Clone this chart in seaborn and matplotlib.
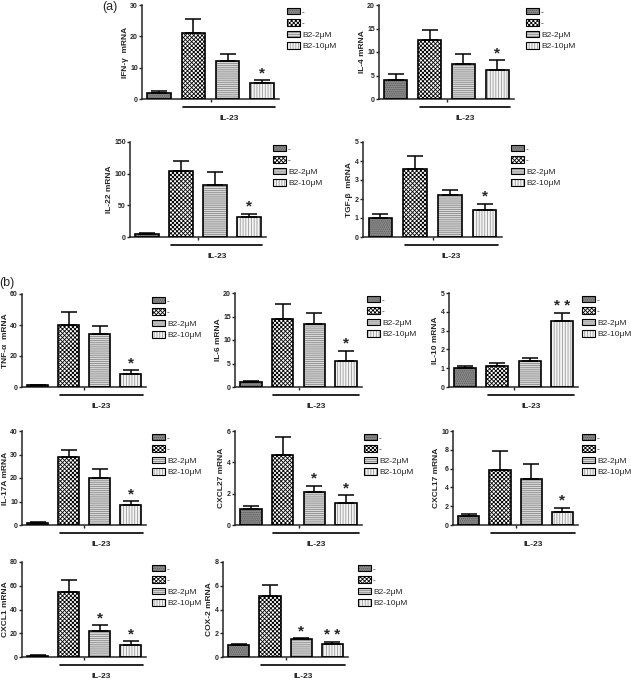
import numpy as np
import pandas as pd
import seaborn as sns
from matplotlib import pyplot as plt
from matplotlib.patches import Patch, Rectangle
from matplotlib.legend_handler import HandlerTuple

# groups (x categories) and legend labels
group_keys = ["ctrl", "il23", "b2_2", "b2_10"]
legend_labels = ["-", "-", "B2-2μM", "B2-10μM"]

# panel (a)
ifng = [2.0, 21.0, 12.0, 5.0]
ifng_err = [0.4, 4.5, 2.4, 1.0]
il4 = [4.0, 12.5, 7.5, 6.2]
il4_err = [1.4, 2.1, 2.1, 2.0]
il22 = [5.0, 105.0, 82.0, 32.0]
il22_err = [1.0, 15.0, 20.0, 5.0]
tgfb = [1.0, 3.6, 2.2, 1.4]
tgfb_err = [0.2, 0.65, 0.27, 0.35]

# panel (b)
tnfa = [1.0, 40.0, 34.5, 8.5]
tnfa_err = [0.3, 8.5, 5.0, 2.5]
il6 = [1.0, 14.5, 13.3, 5.6]
il6_err = [0.2, 3.2, 2.5, 2.1]
il10 = [1.0, 1.1, 1.4, 3.5]
il10_err = [0.1, 0.2, 0.13, 0.42]
il17a = [1.0, 28.8, 20.2, 8.6]
il17a_err = [0.3, 3.0, 3.5, 1.6]
cxcl27 = [1.0, 4.5, 2.1, 1.4]
cxcl27_err = [0.2, 1.1, 0.4, 0.5]
cxcl17 = [1.0, 5.8, 4.9, 1.4]
cxcl17_err = [0.2, 2.1, 1.6, 0.45]
cxcl1 = [1.0, 55.0, 21.5, 10.5]
cxcl1_err = [0.3, 10.0, 5.5, 3.0]
cox2 = [1.0, 5.1, 1.5, 1.1]
cox2_err = [0.1, 1.0, 0.1, 0.2]

y_labels = ["IFN-γ  mRNA", "IL-4 mRNA", "IL-22 mRNA", "TGF-β  mRNA",
            "TNF-α  mRNA", "IL-6 mRNA", "IL-10 mRNA",
            "IL-17A mRNA", "CXCL27 mRNA", "CXCL17 mRNA",
            "CXCL1 mRNA", "COX-2 mRNA"]
y_ticks = [[0, 10, 20, 30], [0, 5, 10, 15, 20], [0, 50, 100, 150], [0, 1, 2, 3, 4, 5],
           [0, 20, 40, 60], [0, 5, 10, 15, 20], [0, 1, 2, 3, 4, 5],
           [0, 10, 20, 30, 40], [0, 2, 4, 6], [0, 2, 4, 6, 8, 10],
           [0, 20, 40, 60, 80], [0, 2, 4, 6, 8]]
stars = [["", "", "", "*"], ["", "", "", "*"], ["", "", "", "*"], ["", "", "", "*"],
         ["", "", "", "*"], ["", "", "", "*"], ["", "", "", "* *"],
         ["", "", "", "*"], ["", "", "*", "*"], ["", "", "", "*"],
         ["", "", "*", "*"], ["", "", "*", "* *"]]

means = [ifng, il4, il22, tgfb, tnfa, il6, il10, il17a, cxcl27, cxcl17, cxcl1, cox2]
errs = [ifng_err, il4_err, il22_err, tgfb_err, tnfa_err, il6_err, il10_err,
        il17a_err, cxcl27_err, cxcl17_err, cxcl1_err, cox2_err]

# layout in pixels: y-axis x, x-axis end, top tick y, zero y, legend x
layout = [(142, 279, 5, 99, 287), (379, 514, 5, 99, 526),
          (130, 266, 142, 237, 273), (363, 502, 142, 237, 511),
          (22, 146, 294, 387, 152), (235, 362, 293, 387, 367), (449, 578, 293, 387, 582),
          (22, 146, 431, 525, 152), (235, 362, 431, 525, 364), (453, 578, 431, 525, 582),
          (22, 146, 562, 657, 152), (223, 348, 562, 657, 358)]

face_colors = ["#8a8a8a", "#ffffff", "#d9d9d9", "#f4f4f4"]
hatch_colors = ["#5a5a5a", "#000000", "#8a8a8a", "#9a9a9a"]
hatches = ["........", "xxxxxxxx", "--------", "||||||"]

W, H = 631, 681
sns.set_style("ticks")
plt.rcParams["font.family"] = ["Liberation Sans", "DejaVu Sans"]
plt.rcParams["hatch.linewidth"] = 0.6

fig = plt.figure(figsize=(W / 100, H / 100), dpi=100)

for i in range(len(means)):
    x0, x1, top, zero, legx = layout[i]
    ax = fig.add_axes([x0 / W, 1 - zero / H, (x1 - x0) / W, (zero - top) / H])
    df = pd.DataFrame({"group": group_keys, "value": means[i]})
    sns.barplot(df, x="group", y="value", hue="group", palette=face_colors, saturation=1,
                width=0.68, legend=False, linewidth=0, ax=ax)
    bars = ax.patches[:4]
    for p, h, hc in zip(bars, hatches, hatch_colors):
        p.set_hatch(h)
        p.set_edgecolor(hc)
        p.set_linewidth(0)
        ax.add_patch(Rectangle(p.get_xy(), p.get_width(), p.get_height(), fill=False,
                               edgecolor="black", linewidth=1.2, zorder=3))
    centers = [p.get_x() + p.get_width() / 2 for p in bars]
    ax.errorbar(centers, means[i], yerr=[np.zeros(4), errs[i]], fmt="none", ecolor="black",
                elinewidth=1.1, capsize=6, capthick=1.1, zorder=4)
    for c, m, e, s in zip(centers, means[i], errs[i], stars[i]):
        if s:
            ax.annotate(s, (c, m + e), xytext=(0, 5), textcoords="offset points",
                        ha="center", va="center", fontsize=11, fontweight="bold")

    ax.set_xlim(-0.5, 3.5)
    ax.set_ylim(0, y_ticks[i][-1])
    ax.set_yticks(y_ticks[i])
    ax.set_yticklabels([str(t) for t in y_ticks[i]], fontsize=5, fontweight="bold")
    ax.set_xticks([1.5])
    ax.set_xticklabels([""])
    ax.tick_params(length=2, width=1, pad=1)
    ax.set_xlabel("")
    ax.set_ylabel(y_labels[i], fontsize=6, fontweight="bold", labelpad=1)
    sns.despine(ax=ax)
    for sp in ["left", "bottom"]:
        ax.spines[sp].set_linewidth(1.1)

    # IL-23 bracket under the treated bars
    frac = 1.0 / (zero - top)
    start = bars[1].get_x() + 0.05
    end = bars[3].get_x() + bars[3].get_width() + 0.05
    ax.plot([start, end], [-8 * frac, -8 * frac], color="black", lw=1.2,
            transform=ax.get_xaxis_transform(), clip_on=False)
    ax.text((start + end) / 2, -19 * frac, "IL-23", ha="center", va="center",
            fontsize=6, fontweight="bold", transform=ax.get_xaxis_transform())

    handles = [(Patch(facecolor=fc, hatch=h, edgecolor=hc, linewidth=0),
                Patch(fill=False, edgecolor="black", linewidth=0.8))
               for fc, h, hc in zip(face_colors, hatches, hatch_colors)]
    ax.legend(handles, legend_labels, handler_map={tuple: HandlerTuple(ndivide=1)},
              loc="upper left", bbox_to_anchor=(legx / W, 1 - (top + 3) / H),
              bbox_transform=fig.transFigure, frameon=False, fontsize=6,
              handlelength=1.5, handleheight=0.8, handletextpad=0.3, labelspacing=0.4,
              borderaxespad=0, borderpad=0)

fig.text(110 / W, 1 - 7 / H, "(a)", fontsize=9, ha="center", va="center")
fig.text(7 / W, 1 - 283 / H, "(b)", fontsize=9, ha="center", va="center")

plt.savefig("out.png", dpi=100)
